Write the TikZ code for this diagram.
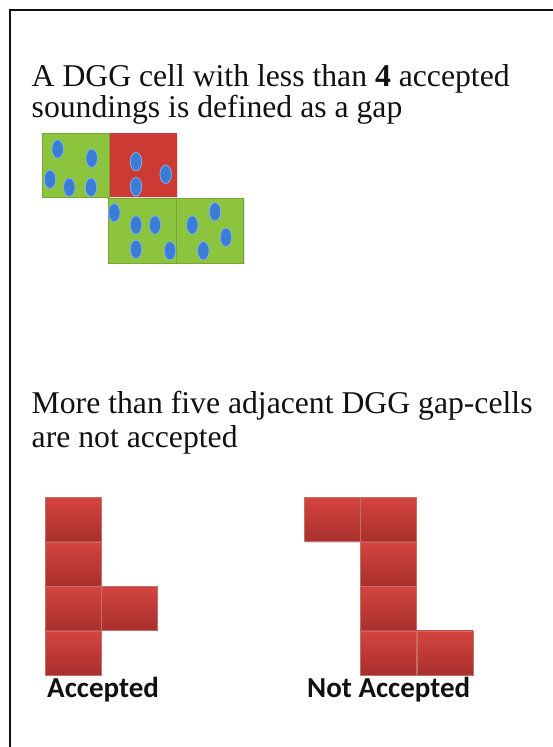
\documentclass[tikz,border=0pt]{standalone}
\usepackage{fontspec}
\setmainfont{Liberation Serif}
\newfontfamily\labelfont{Carlito}
\usetikzlibrary{positioning,shadows,shapes.geometric}
\definecolor{ink}{HTML}{111111}
\definecolor{leaf}{HTML}{8CC43E}
\definecolor{brick}{HTML}{CC3A33}
\definecolor{bricktop}{HTML}{D4443F}
\definecolor{brickbot}{HTML}{A8302D}
\definecolor{sea}{HTML}{3A7CD6}
\definecolor{searim}{HTML}{7DB2EA}

\begin{document}
\begin{tikzpicture}[x=1pt,y=-1pt,text=ink,node distance=0pt,
  cellshadow/.style={drop shadow={opacity=.25,shadow xshift=1pt,shadow yshift=-1pt}},
  okcell/.style={fill=leaf,draw=leaf!85!black,line width=.4pt,minimum width=67.5pt,minimum height=64.5pt,inner sep=0pt,cellshadow},
  gapcell/.style={fill=brick,minimum width=67.5pt,minimum height=64.5pt,inner sep=0pt,cellshadow},
  blockcell/.style={top color=bricktop,bottom color=brickbot,draw=brickbot!70,line width=.4pt,
    minimum width=56pt,minimum height=44pt,inner sep=0pt,cellshadow},
  sounding/.style={ellipse,fill=sea,draw=searim,line width=.8pt,minimum width=11.5pt,minimum height=18.5pt,inner sep=0pt},
  caption/.style={anchor=base west,inner sep=0pt,font=\fontsize{31.7}{36}\selectfont},
  tag/.style={anchor=base west,inner sep=0pt,font=\labelfont\bfseries\fontsize{29}{34}\selectfont}]
  \useasboundingbox (0,0) rectangle (553,747);
  \draw[ink,line width=1.3pt] (10,747) -- (10,10) -- (553,10);

  % text
  \node[caption] (t1) at (31.5,86.5) {A DGG cell with less than \textbf{4} accepted};
  \node[caption] (t2) at (31.5,117) {soundings is defined as a gap};
  \node[caption] (t3) at (31.5,413) {More than five adjacent DGG gap-cells};
  \node[caption] (t4) at (31.5,447) {are not accepted};

  % DGG cells with soundings
  \node[okcell] (g1) at (75.5,165) {};
  \node[gapcell,right=of g1] (r1) {};
  \node[okcell] (g2) at (142,230.5) {};
  \node[okcell,right=of g2] (g3) {};
  \foreach \x/\y [count=\i] in {57.7/149,91.7/158.3,50/179.3,69.3/187.3,91/187.3,
      136/161.7,165.7/174.3,136/186.7,
      114.3/212.7,136/225,155/225,136/249.3,170/250.7,
      215/211.7,192.3/225,226/237.3,203.3/250.7}
    \node[sounding] (s\i) at (\x,\y) {};

  % accepted gap-cells
  \node[blockcell] (a1) at (73,519.5) {};
  \node[blockcell,below=of a1] (a2) {};
  \node[blockcell,below=of a2] (a3) {};
  \node[blockcell,below=of a3] (a4) {};
  \node[blockcell,right=of a3] (a5) {};
  \node[tag] (acc) at (47,697) {Accepted};

  % not accepted gap-cells
  \node[blockcell] (n1) at (332,519.5) {};
  \node[blockcell,right=of n1] (n2) {};
  \node[blockcell,below=of n2] (n3) {};
  \node[blockcell,below=of n3] (n4) {};
  \node[blockcell,below=of n4] (n5) {};
  \node[blockcell,right=of n5] (n6) {};
  \node[tag] (nacc) at (307,697) {Not Accepted};
\end{tikzpicture}
\end{document}
